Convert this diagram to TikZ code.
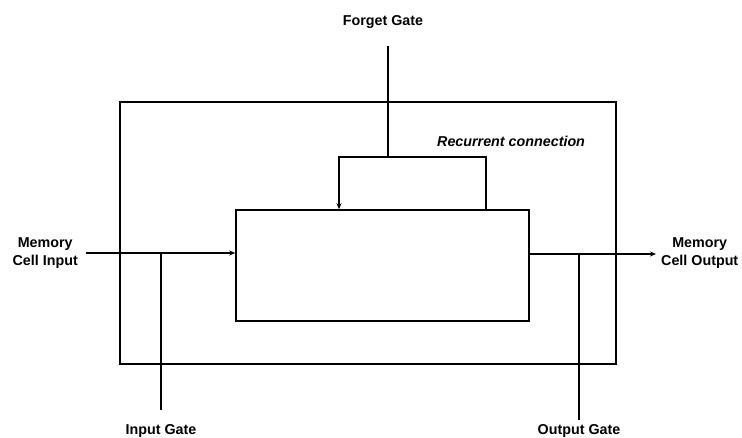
\documentclass[tikz,border=0pt]{standalone}
\usepackage{fontspec}
\setmainfont{Liberation Sans}
\usetikzlibrary{arrows.meta}
\begin{document}
\begin{tikzpicture}[x=1pt,y=-1pt,
  wire/.style={line width=1.5pt},
  flow/.style={wire,-{Stealth[length=6pt,width=5pt]}},
  lbl/.style={font=\fontsize{14.3}{18.5}\selectfont\bfseries,align=center,inner sep=1pt},
  box/.style={draw,line width=1.5pt,inner sep=0pt}]
\useasboundingbox (0,0) rectangle (742,437);
% outer enclosure and inner cell
\node[box,minimum width=496pt,minimum height=262pt] (outer) at (368,233) {};
\node[box,minimum width=293pt,minimum height=111pt] (cell) at (382.5,265.5) {};
% labels
\node[lbl] (forget) at (383,22) {Forget Gate};
\node[lbl,font=\fontsize{14.3}{18.5}\selectfont\bfseries\itshape,anchor=west] (rec) at (436,141) {Recurrent connection};
\node[lbl,anchor=east] (inlbl) at (79,253) {Memory\\Cell Input};
\node[lbl,anchor=west] (outlbl) at (660,253) {Memory\\Cell Output};
\node[lbl] (ingate) at (161,431) {Input Gate};
\node[lbl] (outgate) at (579,431) {Output Gate};
% junction points
\coordinate (fg) at (388,157);
\coordinate (rl) at (339,157);
\coordinate (rr) at (486,157);
\coordinate (inj) at (161,253);
\coordinate (outj) at (579,254);
% forget gate feed and recurrent loop
\draw[wire] (388,46) -- (fg);
\draw[flow] (rr |- cell.north) -- (rr) -- (rl) -- (rl |- cell.north);
% cell input
\draw[flow] (86,253) -- (inj) -- (inj -| cell.west);
\draw[wire] (161,410) -- (inj);
% cell output
\draw[flow] (cell.east |- outj) -- (outj) -- (656,254);
\draw[wire] (579,420) -- (outj);
\end{tikzpicture}
\end{document}
